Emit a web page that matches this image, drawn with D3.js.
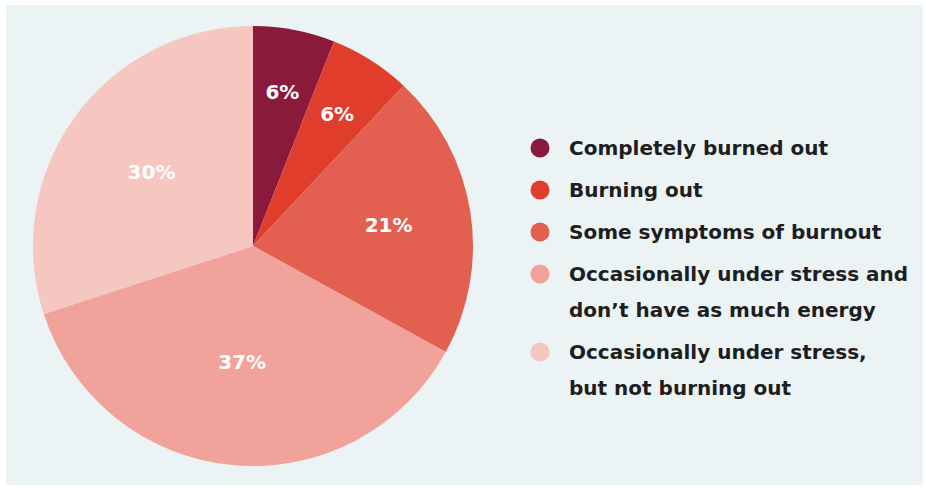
<!DOCTYPE html>
<html>
<head>
<meta charset="utf-8">
<script src="https://cdn.jsdelivr.net/npm/d3@7"></script>
<style>
  html, body { margin: 0; padding: 0; background: #ffffff; }
  svg { display: block; }
</style>
</head>
<body>
<div id="chart"></div>
<script>
// data
var categories = ['Completely burned out', 'Burning out', 'Some symptoms of burnout',
                  'Occasionally under stress and don\u2019t have as much energy',
                  'Occasionally under stress, but not burning out'];
var legendLines = [['Completely burned out'], ['Burning out'], ['Some symptoms of burnout'],
                   ['Occasionally under stress and', 'don\u2019t have as much energy'],
                   ['Occasionally under stress,', 'but not burning out']];
var values = [6, 6, 21, 37, 30];
var colors = ['#8a1a3b', '#e03d2d', '#e35f4f', '#f0a29b', '#f6c6c1'];

var width = 926, height = 488;
var cx = 253, cy = 246, radius = 220;

var svg = d3.select('#chart')
            .append('svg')
            .attr('width', width)
            .attr('height', height);

// panel background
svg.append('rect')
    .attr('x', 6).attr('y', 5)
    .attr('width', width - 9).attr('height', height - 8)
    .style('fill', '#ecf3f5');

var pie = d3.pie().sort(null).value(function(d){ return d; });
var arcs = pie(values);
var total = d3.sum(values);

var arc = d3.arc().innerRadius(0).outerRadius(radius);

var g = svg.append('g').attr('transform', 'translate(' + cx + ',' + cy + ')');

g.selectAll('path')
    .data(arcs)
    .enter()
    .append('path')
    .attr('d', arc)
    .style('fill', function(d, i){ return colors[i]; });

// labels: small slices sit further out
g.selectAll('text')
    .data(arcs)
    .enter()
    .append('text')
    .attr('transform', function(d){
        var r = radius * (0.75 - 0.6 * d.value / total);
        var c = d3.arc().innerRadius(r).outerRadius(r).centroid(d);
        return 'translate(' + c[0] + ',' + c[1] + ')';
    })
    .attr('text-anchor', 'middle')
    .attr('dy', '0.36em')
    .style('fill', '#ffffff')
    .style('font-family', '"DejaVu Sans", sans-serif')
    .style('font-weight', 'bold')
    .style('font-size', '20px')
    .text(function(d){ return d.value + '%'; });

// legend
var lineH = 36, gap = 6;
var legendY = [];
var yy = 148;
legendLines.forEach(function(l){ legendY.push(yy); yy += l.length * lineH + gap; });

var legend = svg.append('g')
    .selectAll('g')
    .data(categories)
    .enter()
    .append('g')
    .attr('transform', function(d, i){ return 'translate(540,' + legendY[i] + ')'; });

legend.append('circle')
    .attr('r', 9.5)
    .style('fill', function(d, i){ return colors[i]; });

legend.append('text')
    .attr('x', 29)
    .style('fill', '#1e1e1e')
    .style('font-family', '"DejaVu Sans", sans-serif')
    .style('font-weight', 'bold')
    .style('font-size', '20px')
    .selectAll('tspan')
    .data(function(d, i){ return legendLines[i]; })
    .enter()
    .append('tspan')
    .attr('x', 29)
    .attr('y', function(d, i){ return i * lineH; })
    .attr('dy', '0.36em')
    .text(function(d){ return d; });
</script>
</body>
</html>
